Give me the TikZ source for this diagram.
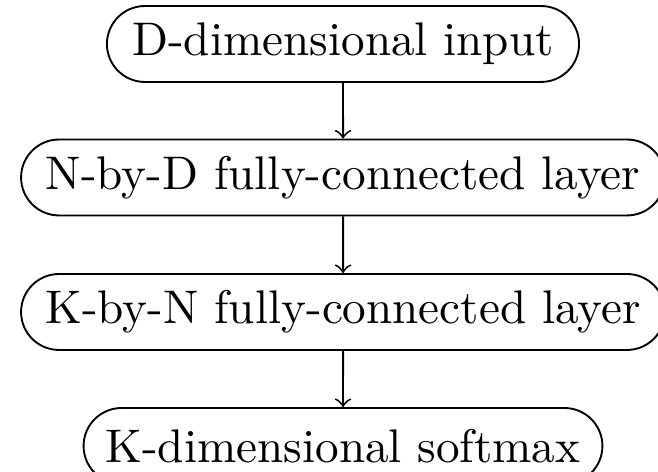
\documentclass[tikz,border=0pt]{standalone}
\usetikzlibrary{shapes.misc}
\begin{document}
\begin{tikzpicture}[x=0.212pt,y=-0.212pt,
  layer/.style={draw,rounded rectangle,inner sep=0pt,
    minimum height=16.1pt,line width=0.4pt},
  flow/.style={draw,->,line width=0.4pt}]
  \useasboundingbox (0,0) rectangle (658,472);
  \clip (0,0) rectangle (658,472);
  \node[layer,minimum width=100.1pt] (in)  at (343,44)  {D-dimensional input};
  \node[layer,minimum width=136.5pt] (fc1) at (343,177.5) {N-by-D fully-connected layer};
  \node[layer,minimum width=136.5pt] (fc2) at (343,312) {K-by-N fully-connected layer};
  \node[layer,minimum width=110pt] (out) at (343,446) {K-dimensional softmax};
  \draw[flow] (in) -- (fc1);
  \draw[flow] (fc1) -- (fc2);
  \draw[flow] (fc2) -- (out);
\end{tikzpicture}
\end{document}
